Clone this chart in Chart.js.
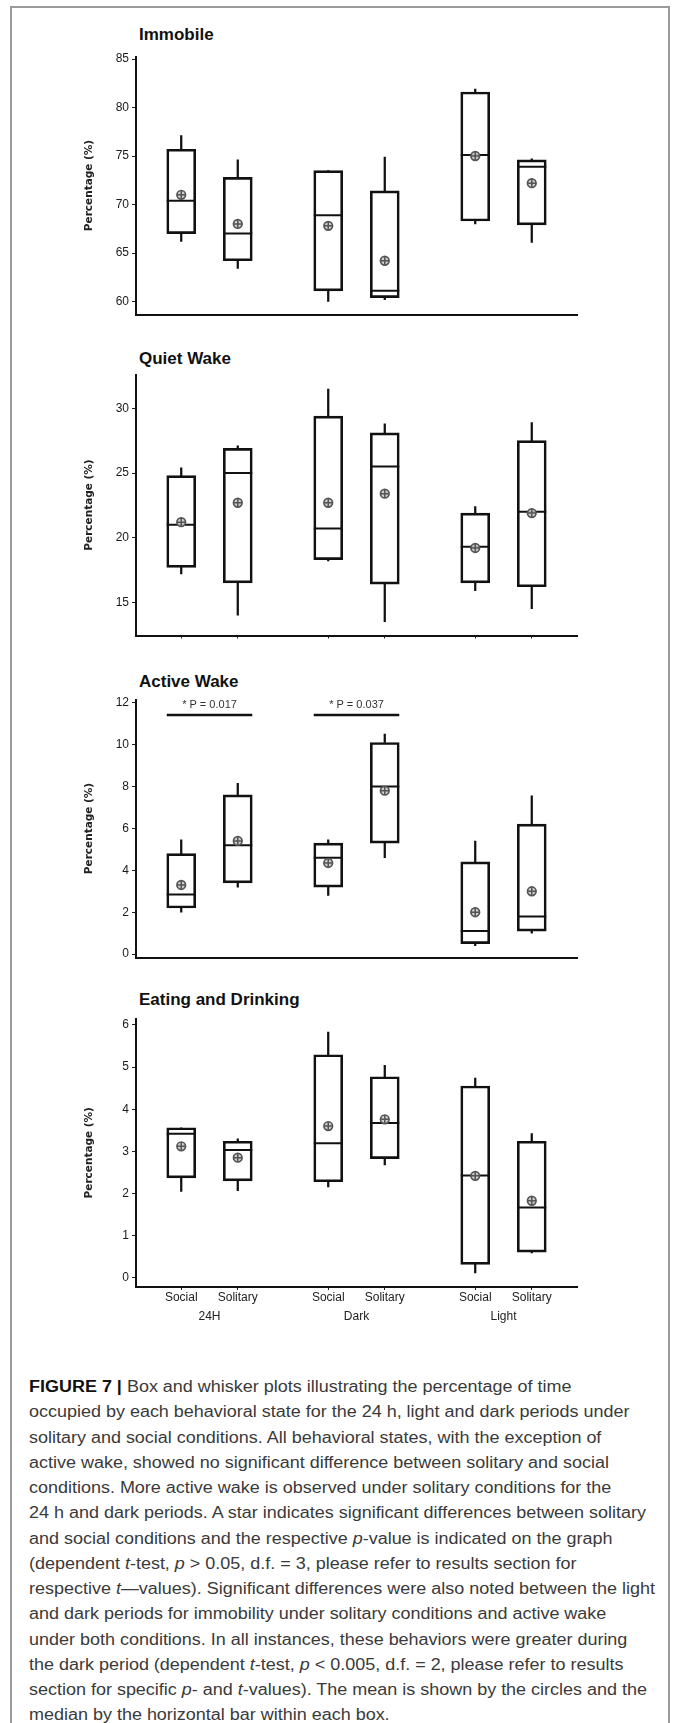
<!DOCTYPE html>
<html><head><meta charset="utf-8">
<script src="https://cdn.jsdelivr.net/npm/chart.js@4/dist/chart.umd.min.js"></script>
<style>
html,body{margin:0;padding:0;background:#fff;}
body{width:674px;height:1723px;position:relative;overflow:hidden;font-family:"Liberation Sans",Arial,sans-serif;}
#frame{position:absolute;left:10px;top:6px;width:660px;height:1800px;border:2px solid #9a9a9a;border-bottom:none;box-sizing:border-box;}
canvas{position:absolute;left:0;}
.ptitle{position:absolute;left:139px;font:bold 17px "Liberation Sans",Arial,sans-serif;line-height:20px;color:#111;white-space:nowrap;}
#caption{position:absolute;left:29px;top:1374px;font-size:16px;line-height:25.25px;color:#3a3a3a;transform-origin:0 0;white-space:nowrap;}
#caption .row{height:25.25px;}
#caption b{color:#111;}
</style>
</head><body>
<div id="frame"></div>
<div id="caption">
<div class="row"><span class="ln"><b>FIGURE 7 |</b> Box and whisker plots illustrating the percentage of time</span></div>
<div class="row"><span class="ln">occupied by each behavioral state for the 24 h, light and dark periods under</span></div>
<div class="row"><span class="ln">solitary and social conditions. All behavioral states, with the exception of</span></div>
<div class="row"><span class="ln">active wake, showed no significant difference between solitary and social</span></div>
<div class="row"><span class="ln">conditions. More active wake is observed under solitary conditions for the</span></div>
<div class="row"><span class="ln">24 h and dark periods. A star indicates significant differences between solitary</span></div>
<div class="row"><span class="ln">and social conditions and the respective <i>p</i>-value is indicated on the graph</span></div>
<div class="row"><span class="ln">(dependent <i>t</i>-test, <i>p</i> &gt; 0.05, d.f. = 3, please refer to results section for</span></div>
<div class="row"><span class="ln">respective <i>t</i>—values). Significant differences were also noted between the light</span></div>
<div class="row"><span class="ln">and dark periods for immobility under solitary conditions and active wake</span></div>
<div class="row"><span class="ln">under both conditions. In all instances, these behaviors were greater during</span></div>
<div class="row"><span class="ln">the dark period (dependent <i>t</i>-test, <i>p</i> &lt; 0.005, d.f. = 2, please refer to results</span></div>
<div class="row"><span class="ln">section for specific <i>p</i>- and <i>t</i>-values). The mean is shown by the circles and the</span></div>
<div class="row"><span class="ln">median by the horizontal bar within each box.</span></div>
</div>
<script>
// ---------- DATA ----------
const groups = ['24H', 'Dark', 'Light'];
const conditions = ['Social', 'Solitary'];

const immobileMin    = [66.2, 63.4, 60.0, 60.2, 68.0, 66.1];
const immobileQ1     = [67.0, 64.2, 61.1, 60.4, 68.3, 67.9];
const immobileMedian = [70.4, 67.0, 68.9, 61.1, 75.1, 73.9];
const immobileQ3     = [75.7, 72.8, 73.5, 71.4, 81.6, 74.6];
const immobileMax    = [77.1, 74.6, 73.5, 74.9, 81.9, 74.7];
const immobileMean   = [71.0, 68.0, 67.8, 64.2, 75.0, 72.2];
const immobileTicks  = [60, 65, 70, 75, 80, 85];

const quietMin    = [17.2, 14.0, 18.2, 13.5, 15.9, 14.5];
const quietQ1     = [17.7, 16.5, 18.3, 16.4, 16.5, 16.2];
const quietMedian = [21.0, 25.0, 20.7, 25.5, 19.3, 22.0];
const quietQ3     = [24.8, 26.9, 29.4, 28.1, 21.9, 27.5];
const quietMax    = [25.4, 27.1, 31.5, 28.8, 22.4, 28.9];
const quietMean   = [21.2, 22.7, 22.7, 23.4, 19.2, 21.9];
const quietTicks  = [15, 20, 25, 30];

const activeMin    = [2.0, 3.2, 2.8, 4.6, 0.4, 1.0];
const activeQ1     = [2.2, 3.4, 3.2, 5.3, 0.5, 1.1];
const activeMedian = [2.85, 5.2, 4.6, 8.0, 1.1, 1.8];
const activeQ3     = [4.8, 7.6, 5.3, 10.1, 4.4, 6.2];
const activeMax    = [5.45, 8.15, 5.45, 10.5, 5.4, 7.55];
const activeMean   = [3.3, 5.4, 4.35, 7.8, 2.0, 3.0];
const activeTicks  = [0, 2, 4, 6, 8, 10, 12];

const eatingMin    = [2.05, 2.07, 2.16, 2.68, 0.12, 0.59];
const eatingQ1     = [2.37, 2.30, 2.28, 2.83, 0.32, 0.61];
const eatingMedian = [3.42, 3.03, 3.19, 3.67, 2.43, 1.67];
const eatingQ3     = [3.56, 3.24, 5.29, 4.77, 4.55, 3.24];
const eatingMax    = [3.56, 3.30, 5.83, 5.04, 4.74, 3.42];
const eatingMean   = [3.12, 2.85, 3.60, 3.76, 2.42, 1.83];
const eatingTicks  = [0, 1, 2, 3, 4, 5, 6];

const sigLabels = ['* P = 0.017', '* P = 0.037'];
const sigGroups = [0, 1];
const sigLevel = 11.41;
const sigTextLevel = 11.9;

// ---------- LAYOUT ----------
const GROUP_GAP = 2.6;
const BOX_HALF = 0.2565;   // half box width in x units
const positions = [];
groups.forEach((g, gi) => conditions.forEach((c, ci) => positions.push(gi * GROUP_GAP + ci)));
const groupCenters = groups.map((g, gi) => gi * GROUP_GAP + 0.5);
const subLabels = positions.map((p, i) => conditions[i % 2]);

const panels = [
  {title: 'Immobile', titleTop: 25, top: 50.7, bottom: 322.7, yMin: 58.66, yMax: 85.26,
   mn: immobileMin, q1: immobileQ1, md: immobileMedian, q3: immobileQ3, mx: immobileMax, mean: immobileMean, ticks: immobileTicks,
   xTicks: false, labels: false, sig: false},
  {title: 'Quiet Wake', titleTop: 349, top: 368.3, bottom: 643.7, yMin: 12.43, yMax: 32.62,
   mn: quietMin, q1: quietQ1, md: quietMedian, q3: quietQ3, mx: quietMax, mean: quietMean, ticks: quietTicks,
   xTicks: true, labels: false, sig: false},
  {title: 'Active Wake', titleTop: 671.5, top: 693.3, bottom: 965.3, yMin: -0.16, yMax: 12.15,
   mn: activeMin, q1: activeQ1, md: activeMedian, q3: activeQ3, mx: activeMax, mean: activeMean, ticks: activeTicks,
   xTicks: false, labels: false, sig: true},
  {title: 'Eating and Drinking', titleTop: 990, top: 1012.3, bottom: 1287, yMin: -0.215, yMax: 6.15,
   mn: eatingMin, q1: eatingQ1, md: eatingMedian, q3: eatingQ3, mx: eatingMax, mean: eatingMean, ticks: eatingTicks,
   xTicks: true, labels: true, sig: false}
];

const INK = '#111';
const TICKFONT = {family: '"Liberation Sans", Arial, sans-serif', size: 12};

panels.forEach(p => {
  const t = document.createElement('div');
  t.className = 'ptitle';
  t.style.top = p.titleTop + 'px';
  t.textContent = p.title;
  document.body.appendChild(t);

  const canvasTop = Math.floor(p.top) - 10;
  const padTop = p.top - canvasTop;
  const areaBottom = p.bottom - canvasTop;
  const x2H = p.labels ? 22 : 0;
  const H = Math.ceil(areaBottom + (p.labels ? 18 : 8) + x2H);
  const xH = H - areaBottom - x2H;

  const cv = document.createElement('canvas');
  cv.width = 674; cv.height = H;
  cv.style.top = canvasTop + 'px';
  cv.style.width = '674px'; cv.style.height = H + 'px';
  document.body.appendChild(cv);

  const datasets = [
    {type: 'bar', label: 'box', order: 5, grouped: false, barThickness: 29,
     data: positions.map((x, i) => ({x: x, y: [p.q1[i], p.q3[i]]})),
     backgroundColor: 'rgba(255,255,255,0)', borderColor: INK, borderWidth: 2, borderSkipped: false},
    {type: 'bar', label: 'upper whisker', order: 6, grouped: false, barThickness: 1.6,
     data: positions.map((x, i) => ({x: x, y: [p.q3[i], p.mx[i]]})),
     backgroundColor: INK, borderWidth: 0},
    {type: 'bar', label: 'lower whisker', order: 6, grouped: false, barThickness: 1.6,
     data: positions.map((x, i) => ({x: x, y: [p.mn[i], p.q1[i]]})),
     backgroundColor: INK, borderWidth: 0},
    {type: 'line', label: 'median', order: 3, showLine: false,
     data: positions.map((x, i) => ({x: x, y: p.md[i]})),
     pointStyle: 'line', pointRadius: 14.5, pointBorderWidth: 2, pointBorderColor: INK},
    {type: 'line', label: 'mean', order: 2, showLine: false,
     data: positions.map((x, i) => ({x: x, y: p.mean[i]})),
     pointStyle: 'circle', pointRadius: 4.3, pointBorderWidth: 1.7, pointBorderColor: '#555', pointBackgroundColor: 'rgba(200,200,200,0.9)'},
    {type: 'line', label: 'mean cross', order: 1, showLine: false,
     data: positions.map((x, i) => ({x: x, y: p.mean[i]})),
     pointStyle: 'cross', pointRadius: 4.3, pointBorderWidth: 1.5, pointBorderColor: '#555'}
  ];
  if (p.sig) {
    sigGroups.forEach(g => {
      datasets.push({type: 'line', label: 'sig', order: 1,
        data: [{x: positions[g * 2] - BOX_HALF, y: sigLevel}, {x: positions[g * 2 + 1] + BOX_HALF, y: sigLevel}],
        borderColor: INK, borderWidth: 2.6, pointRadius: 0, fill: false});
    });
  }

  const sigPlugin = {
    id: 'sigText',
    afterDatasetsDraw(chart) {
      if (!p.sig) return;
      const ctx = chart.ctx;
      ctx.save();
      ctx.font = '11px "Liberation Sans", Arial, sans-serif';
      ctx.fillStyle = '#333';
      ctx.textAlign = 'center';
      ctx.textBaseline = 'middle';
      sigGroups.forEach((g, k) => {
        ctx.fillText(sigLabels[k], chart.scales.x.getPixelForValue(groupCenters[g]), chart.scales.y.getPixelForValue(sigTextLevel));
      });
      ctx.restore();
    }
  };

  const scales = {
    x: {type: 'linear', min: -0.8, max: 7.0, offset: false, weight: 0,
      afterBuildTicks: s => { s.ticks = positions.map(v => ({value: v})); },
      ticks: {display: p.labels, callback: (v, i) => subLabels[i], font: TICKFONT, color: '#222', padding: 0, autoSkip: false, maxRotation: 0},
      grid: {display: p.xTicks, drawOnChartArea: false, drawTicks: p.xTicks, tickLength: 3, color: '#222', lineWidth: 1, offset: false},
      border: {display: true, color: INK, width: 2},
      afterFit: s => { s.height = xH; }},
    y: {type: 'linear', min: p.yMin, max: p.yMax,
      afterBuildTicks: s => { s.ticks = p.ticks.map(v => ({value: v})); },
      ticks: {font: TICKFONT, color: '#1a1a1a', padding: 3},
      grid: {drawOnChartArea: false, drawTicks: true, tickLength: 4, color: '#222', lineWidth: 1},
      border: {display: true, color: INK, width: 2},
      title: {display: true, text: 'Percentage (%)', color: '#222', padding: 0,
        font: {family: '"DejaVu Sans", Verdana, sans-serif', size: 10.5, weight: 'bold'}},
      afterFit: s => { s.width = 53; }}
  };
  if (p.labels) {
    scales.x2 = {type: 'linear', position: 'bottom', axis: 'x', min: -0.8, max: 7.0, offset: false, weight: 1,
      afterBuildTicks: s => { s.ticks = groupCenters.map(v => ({value: v})); },
      ticks: {callback: (v, i) => groups[i], font: TICKFONT, color: '#222', padding: 4, autoSkip: false, maxRotation: 0},
      grid: {display: false, drawTicks: false},
      border: {display: false},
      afterFit: s => { s.height = x2H; }};
  }

  new Chart(cv, {
    type: 'bar',
    data: {datasets: datasets},
    options: {
      responsive: false, animation: false, events: [],
      devicePixelRatio: 1,
      layout: {padding: {top: padTop, left: 83, right: 97, bottom: 0}},
      plugins: {legend: {display: false}, tooltip: {enabled: false}, title: {display: false}},
      scales: scales
    },
    plugins: [sigPlugin]
  });
});

// fit caption lines to target width
(function () {
  const cap = document.getElementById('caption');
  let maxW = 0;
  cap.querySelectorAll('.ln').forEach(s => { maxW = Math.max(maxW, s.getBoundingClientRect().width); });
  if (maxW > 0) cap.style.transform = 'scaleX(' + (626 / maxW) + ')';
})();
</script>
</body></html>
